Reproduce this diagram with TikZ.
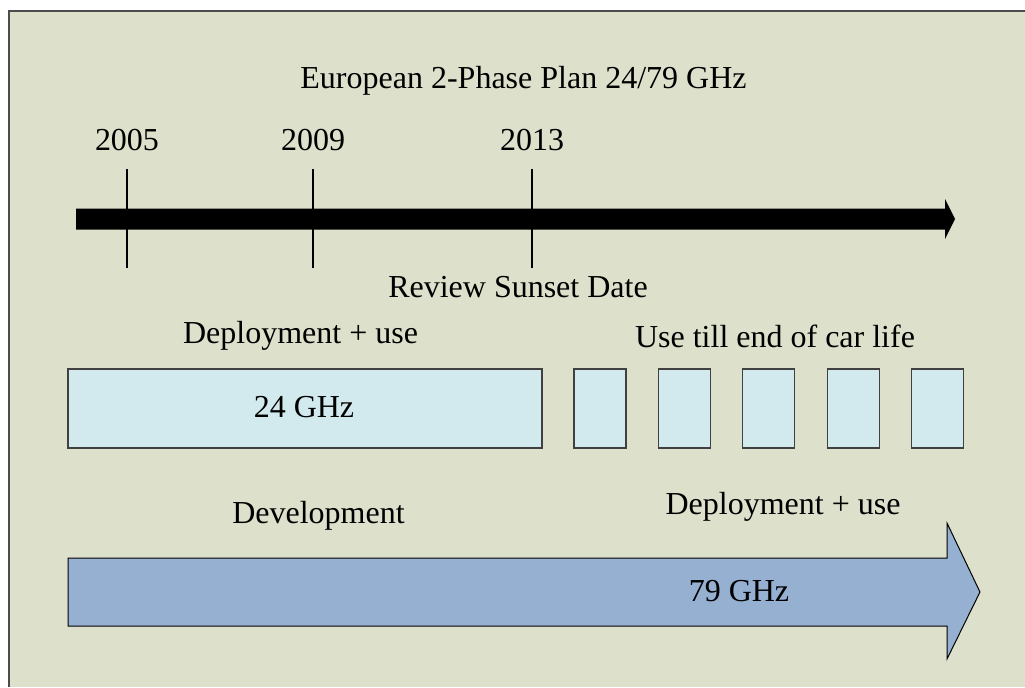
\documentclass[tikz,border=0pt]{standalone}
\usepackage{fontspec}
\setmainfont{Liberation Serif}
\usetikzlibrary{positioning}
\definecolor{PLANBG}{HTML}{DDE0CA}
\definecolor{BAND}{HTML}{D2E9EE}
\definecolor{PHASE}{HTML}{95B0D0}
\definecolor{EDGE}{HTML}{404040}

\begin{document}
\begin{tikzpicture}[x=0.5pt, y=-0.5pt,
          lbl/.style={anchor=base, inner sep=0pt, font=\fontsize{16}{19}\selectfont},
          band/.style={rectangle, draw=EDGE, fill=BAND, line width=0.6pt,
                       minimum height=39.5pt, inner sep=0pt},
          tick/.style={line width=0.6pt}
        ]
          \useasboundingbox (0,0) rectangle (1025,687);
          \fill[PLANBG] (9,11) rectangle (1025,687);
          \draw[line width=0.8pt, black!70] (9,687) |- (1025,11);
          \node[lbl] (title) at (523.5,88) {European 2-Phase Plan 24/79 GHz};
          % time axis
          \fill[black] (76,208.5) -- (945,208.5) -- (945,199) -- (955,219)
            -- (945,239) -- (945,229.5) -- (76,229.5) -- cycle;
          \foreach \yr/\px in {2005/127, 2009/313, 2013/532} {
            \node[lbl] (y\yr) at (\px,150) {\yr};
            \draw[tick] (\px,169) -- (\px,268);
          }
          \node[lbl] (review) at (518,297) {Review Sunset Date};
          % 24 GHz phase
          \node[lbl] (dep24) at (300.5,343) {Deployment + use};
          \node[lbl] (uselife) at (775,347) {Use till end of car life};
          \node[band, minimum width=237pt] (ghz24) at (305,408.5) {};
          \node[lbl] at (304,417) {24 GHz};
          \foreach \i in {0,...,4}
            \node[band, minimum width=26pt] (life\i) at (600+84.4*\i,408.5) {};
          % 79 GHz phase
          \node[lbl] (devel) at (318.5,523) {Development};
          \node[lbl] (dep79) at (783,514) {Deployment + use};
          \filldraw[fill=PHASE, draw=black, line width=0.5pt] (68,558) -- (947,558)
            -- (947,523) -- (980,592) -- (947,659) -- (947,626) -- (68,626) -- cycle;
          \node[lbl] (ghz79) at (739,601) {79 GHz};
        \end{tikzpicture}
\end{document}
